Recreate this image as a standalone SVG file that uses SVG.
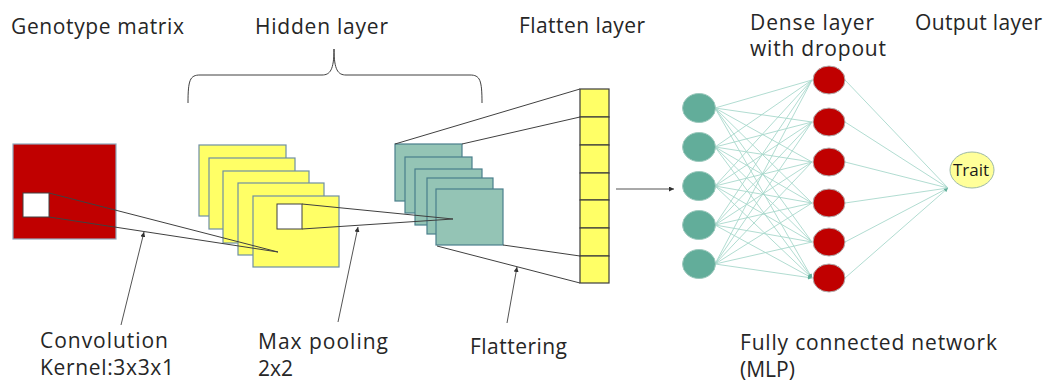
<svg xmlns="http://www.w3.org/2000/svg" width="1048" height="382" viewBox="0 0 1048 382">
<style>
.t{font-family:"Open Sans","Noto Sans","Liberation Sans",sans-serif;font-size:21px;fill:#262626}
.red{fill:#C00000;stroke:#8FA8BC;stroke-width:1.2}
.yel{fill:#FFFF66;stroke:#6F8FA3;stroke-width:1.2}
.teal{fill:#94C4B5;stroke:#4A7F8C;stroke-width:1.2}
.cell{fill:#FFFF66;stroke:#3C3C3C;stroke-width:1.2}
.hole{fill:#fff;stroke:#404040;stroke-width:1}
.ln{fill:none;stroke:#404040;stroke-width:1}
.ptr{fill:none;stroke:#404040;stroke-width:0.9;marker-end:url(#ah)}
.fc{fill:none;stroke:#A8D8CC;stroke-width:0.9;marker-end:url(#tah)}
.inp{fill:#62AD9A;stroke:#9CC9BD;stroke-width:1}
.den{fill:#C00000;stroke:#B0B0B0;stroke-width:1}
</style>
<defs>
<marker id="ah" viewBox="0 0 6 6" refX="6" refY="3" markerWidth="5" markerHeight="5" markerUnits="userSpaceOnUse" orient="auto"><path d="M0,0 L6,3 L0,6 z" fill="#303030"/></marker>
<marker id="tah" viewBox="0 0 6 6" refX="6" refY="3" markerWidth="5" markerHeight="4" markerUnits="userSpaceOnUse" orient="auto"><path d="M0,0 L6,3 L0,6 z" fill="#5FAE9A"/></marker>
</defs>

<g id="labels">
<text class="t" x="11" y="34" textLength="173">Genotype matrix</text>
<text class="t" x="255" y="34" textLength="133">Hidden layer</text>
<text class="t" x="519" y="33" textLength="126">Flatten layer</text>
<text class="t" x="750" y="30" textLength="124">Dense layer</text>
<text class="t" x="750" y="56" textLength="136">with dropout</text>
<text class="t" x="915" y="30" textLength="127">Output layer</text>
<text class="t" x="40" y="348" textLength="128">Convolution</text>
<text class="t" x="40" y="375" textLength="134">Kernel:3x3x1</text>
<text class="t" x="258" y="349" textLength="130">Max pooling</text>
<text class="t" x="258" y="376">2x2</text>
<text class="t" x="470" y="354" textLength="97">Flattering</text>
<text class="t" x="740" y="350" textLength="257">Fully connected network</text>
<text class="t" x="740" y="377">(MLP)</text>
</g>

<g id="genotype-matrix">
<rect class="red" x="13" y="144" width="103" height="95"/>
<rect class="hole" x="23" y="193" width="26" height="24"/>
</g>

<g id="conv-maps">
<rect class="yel" x="199" y="145" width="87" height="71"/>
<rect class="yel" x="209" y="158" width="86" height="71"/>
<rect class="yel" x="223" y="171" width="86" height="72"/>
<rect class="yel" x="238" y="183" width="86" height="72"/>
<rect class="yel" x="253" y="196" width="86" height="71"/>
<rect class="hole" x="277" y="204" width="25" height="25"/>
</g>

<g id="pool-maps">
<rect class="teal" x="395" y="144" width="67" height="57"/>
<rect class="teal" x="405" y="157" width="67" height="56"/>
<rect class="teal" x="415" y="169" width="67" height="56"/>
<rect class="teal" x="427" y="178" width="66" height="56"/>
<rect class="teal" x="436" y="189" width="67" height="56"/>
</g>

<g id="flatten-layer">
<rect class="cell" x="580" y="89" width="29" height="28"/>
<rect class="cell" x="580" y="117" width="29" height="28"/>
<rect class="cell" x="580" y="145" width="29" height="28"/>
<rect class="cell" x="580" y="173" width="29" height="27"/>
<rect class="cell" x="580" y="200" width="29" height="28"/>
<rect class="cell" x="580" y="228" width="29" height="28"/>
<rect class="cell" x="580" y="256" width="29" height="27"/>
</g>

<g id="connectors">
<path class="ln" d="M188,103 C188,80 190,75 200,75 L322,75 C330,75 334,70 334,49 C334,70 338,75 346,75 L470,75 C480,75 482,80 482,103"/>
<path class="ln" d="M49,193 L278,252 M49,217 L278,252"/>
<path class="ln" d="M302,204 L453,219 M302,229 L453,219"/>
<path class="ln" d="M395,144 L580,89 M462,144 L580,117 M437,246 L580,283 M503,245 L580,256"/>
<path class="ptr" d="M121,325 L144,232"/>
<path class="ptr" d="M338,322 L358,227"/>
<path class="ptr" d="M507,323 L517,267"/>
<path class="ptr" d="M616,189 L674,189"/>
<g id="fc-in">
<path class="fc" d="M715,108 L812,80 M715,108 L812,122 M715,108 L812,162 M715,108 L812,203 M715,108 L812,242 M715,108 L812,278"/>
<path class="fc" d="M715,147 L812,80 M715,147 L812,122 M715,147 L812,162 M715,147 L812,203 M715,147 L812,242 M715,147 L812,278"/>
<path class="fc" d="M715,186 L812,80 M715,186 L812,122 M715,186 L812,162 M715,186 L812,203 M715,186 L812,242 M715,186 L812,278"/>
<path class="fc" d="M715,225 L812,80 M715,225 L812,122 M715,225 L812,162 M715,225 L812,203 M715,225 L812,242 M715,225 L812,278"/>
<path class="fc" d="M715,264 L812,80 M715,264 L812,122 M715,264 L812,162 M715,264 L812,203 M715,264 L812,242 M715,264 L812,278"/>
</g>
<g id="fc-out">
<path class="fc" d="M845,80 L948,188 M845,122 L948,188 M845,162 L948,188 M845,203 L948,188 M845,242 L948,188 M845,278 L948,188"/>
</g>
</g>

<g id="input-nodes">
<ellipse class="inp" cx="699" cy="108" rx="16.5" ry="14.5"/>
<ellipse class="inp" cx="699" cy="147" rx="16.5" ry="14.5"/>
<ellipse class="inp" cx="699" cy="186" rx="16.5" ry="14.5"/>
<ellipse class="inp" cx="699" cy="225" rx="16.5" ry="14.5"/>
<ellipse class="inp" cx="699" cy="264" rx="16.5" ry="14.5"/>
</g>

<g id="dense-nodes">
<ellipse class="den" cx="829" cy="80" rx="16" ry="14"/>
<ellipse class="den" cx="829" cy="122" rx="16" ry="14"/>
<ellipse class="den" cx="829" cy="162" rx="16" ry="14"/>
<ellipse class="den" cx="829" cy="203" rx="16" ry="14"/>
<ellipse class="den" cx="829" cy="242" rx="16" ry="14"/>
<ellipse class="den" cx="829" cy="278" rx="16" ry="14"/>
</g>

<g id="trait">
<ellipse cx="972" cy="170" rx="22" ry="18" fill="#FFFF99" stroke="#9CB8A8" stroke-width="1"/>
<text x="971" y="176" text-anchor="middle" style="font-family:'Open Sans','Liberation Sans',sans-serif;font-size:17px;fill:#1a1a1a">Trait</text>
</g>
</svg>
